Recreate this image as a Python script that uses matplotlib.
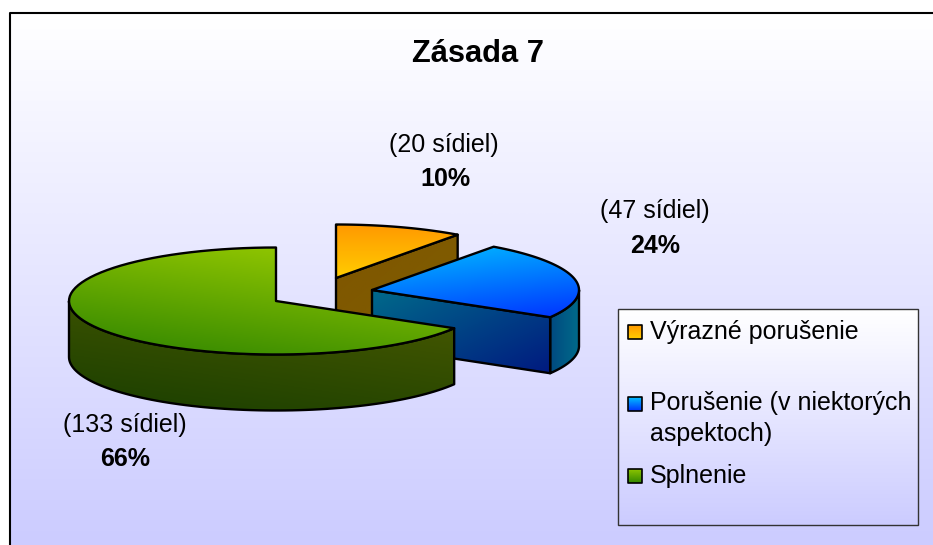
import matplotlib
matplotlib.use("Agg")
import matplotlib.pyplot as plt
from matplotlib.colors import LinearSegmentedColormap
from matplotlib.patches import Polygon, Rectangle
import numpy as np

plt.rcParams['font.family'] = ['Liberation Sans', 'DejaVu Sans']

names = ['Výrazné porušenie', 'Porušenie (v niektorých\naspektoch)', 'Splnenie']
counts = [20, 47, 133]
count_labels = ['(20 sídiel)', '(47 sídiel)', '(133 sídiel)']
pct_labels = ['10%', '24%', '66%']
title = 'Zásada 7'

# pie geometry in pixels
RX = 207
RY = 53.5
DEPTH = 56
apex = [(336, 278), (372, 290), (276, 301)]

top_cols = [('#ff9900', '#ffcc00'), ('#00c0ff', '#0033ff'), ('#a0d000', '#2f8500')]
key_cols = [('#ff9900', '#ffcc00'), ('#00c0ff', '#0033ff'), ('#8cc400', '#338800')]
top_dirs = [(0, 1), (0.35, 1), (-0.5, 1)]
side_cols = [('#7f5500', '#7f5f00'), ('#006a8a', '#001a80'), ('#4a5a00', '#1a3f00')]
rim_cols = [None, ('#006a8a', '#004a80'), ('#4a5a00', '#1a3f00')]

fig = plt.figure(figsize=(9.33, 5.45), dpi=100)
ax = fig.add_axes([0, 0, 1, 1])
ax.set_xlim(0, 933)
ax.set_ylim(545, 0)
ax.axis('off')


def grad_fill(pts, c0, c1, direction=(0, 1), z=1):
    # gradient image clipped to the polygon
    pts = np.array(pts)
    x0, y0 = pts.min(axis=0)
    x1, y1 = pts.max(axis=0)
    yy, xx = np.mgrid[0:1:64j, 0:1:64j]
    u = xx * direction[0] + yy * direction[1]
    u = (u - u.min()) / (u.max() - u.min())
    cmap = LinearSegmentedColormap.from_list('g', [c0, c1])
    im = ax.imshow(u, cmap=cmap, extent=(x0, x1, y1, y0), aspect='auto',
                   interpolation='bilinear', zorder=z)
    patch = Polygon(pts, closed=True, transform=ax.transData, fc='none', ec='none')
    ax.add_patch(patch)
    im.set_clip_path(patch)
    return im


def outline(pts, z, lw=1.7):
    ax.add_patch(Polygon(pts, closed=True, fc='none', ec='black', lw=lw, zorder=z,
                         joinstyle='round'))


def rim_pts(c, t0, t1, n=80):
    t = np.radians(np.linspace(t0, t1, n))
    return np.column_stack([c[0] + RX * np.sin(t), c[1] - RY * np.cos(t)])


# background and frame
grad_fill([(10, 13), (933, 13), (933, 545), (10, 545)], '#ffffff', '#ccccff', z=0)
ax.plot([10, 10, 933], [545, 13, 13], color='black', lw=1.5, zorder=0.5)

total = sum(counts)
starts = np.cumsum([0] + counts[:-1]) / total * 360
ends = np.cumsum(counts) / total * 360

for i in range(len(counts)):
    c = apex[i]
    z = 2 + i * 2
    arc = rim_pts(c, starts[i], ends[i])
    # cut face at the end of the first two slices
    if i < 2:
        p = np.array(c)
        e = arc[-1]
        face = [p, e, e + (0, DEPTH), p + (0, DEPTH)]
        grad_fill(face, side_cols[i][0], side_cols[i][1], (1, 1), z)
        outline(face, z + 0.5)
    # outer wall for the part of the rim that faces the viewer
    lo = max(starts[i], 90)
    hi = min(ends[i], 270)
    if lo < hi:
        wall = rim_pts(c, lo, hi)
        shape = np.vstack([wall, wall[::-1] + (0, DEPTH)])
        if i == 2:
            grad_fill(shape, rim_cols[i][0], rim_cols[i][1], (-0.5, 1), z)
        else:
            grad_fill(shape, rim_cols[i][1], rim_cols[i][0], (1, 0), z)
        outline(shape, z + 0.5)
    top = np.vstack([[c], arc])
    grad_fill(top, top_cols[i][0], top_cols[i][1], top_dirs[i], z + 1)
    outline(top, z + 1.5)

# labels
label_xy = [(444, 145), (655, 211), (125, 425)]
pct_xy = [(445, 179), (655, 246), (125, 459)]
for i in range(3):
    ax.text(label_xy[i][0], label_xy[i][1], count_labels[i], fontsize=18,
            ha='center', va='center', zorder=20)
    ax.text(pct_xy[i][0], pct_xy[i][1], pct_labels[i], fontsize=18,
            fontweight='bold', ha='center', va='center', zorder=20)

ax.text(478, 54, title, fontsize=22.2, fontweight='bold', ha='center', va='center', zorder=20)

# legend
grad_fill([(618, 309), (918, 309), (918, 525), (618, 525)], '#ffffff', '#ccccff', z=10)
ax.add_patch(Rectangle((618, 309), 300, 216, fc='none', ec='#333333', lw=1.0, zorder=11))
key_y = [332, 404, 476]
text_y = [332, 403, 476]
for i in range(3):
    sq = [(628, key_y[i] - 7), (642, key_y[i] - 7), (642, key_y[i] + 7), (628, key_y[i] + 7)]
    grad_fill(sq, key_cols[i][0], key_cols[i][1], (0, 1), 12)
    outline(sq, 13, lw=1.2)
    ax.text(650, text_y[i], names[i].split('\n')[0], fontsize=18, va='center', zorder=20)
ax.text(650, 434, names[1].split('\n')[1], fontsize=18, va='center', zorder=20)

ax.set_xlim(0, 933)
ax.set_ylim(545, 0)
fig.savefig('out.png', dpi=100)
